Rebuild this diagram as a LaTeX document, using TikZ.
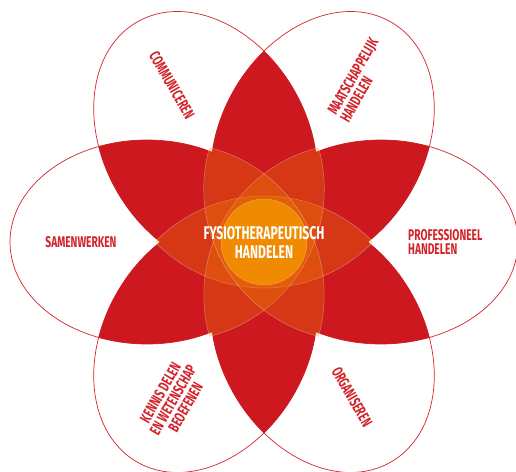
\documentclass[tikz,border=0pt]{standalone}
\usepackage{fontspec}
\usepackage{tikz}
\usetikzlibrary{positioning}
\newfontfamily\labelfont{Fira Sans}[FakeStretch=0.66]
\definecolor{petalline}{RGB}{210,35,42}
\definecolor{petalred}{RGB}{204,24,30}
\definecolor{lensorange}{RGB}{240,138,0}
\definecolor{coreorange}{RGB}{240,138,0}
\tikzset{
  petal/.style={draw=petalline, line width=0.7pt},
  lens/.style={fill=lensorange, fill opacity=0.28, draw=white, draw opacity=0.35, line width=0.5pt},
  petallabel/.style={text=petalline, font=\labelfont\bfseries\fontsize{15.5}{14.5}\selectfont, inner sep=0pt},
  corelabel/.style={text=white, font=\labelfont\bfseries\fontsize{18.4}{19}\selectfont, inner sep=0pt, align=center}
}

\begin{document}
\begin{tikzpicture}[x=1pt, y=1pt]
        \useasboundingbox (-264,-229) rectangle (252,242);
        % Six petals (outlines only)
        \foreach \a in {0,60,...,300}
          \draw[petal, rotate=\a] (117,0) ellipse [x radius=137pt, y radius=102pt];
        % Red where two petals overlap
        \foreach \i in {0,...,5} {
          \foreach \j in {0,...,5} {
            \ifnum\j>\i
            \begin{scope}
              \clip[rotate=60*\i] (117,0) ellipse [x radius=137pt, y radius=102pt];
              \fill[petalred, rotate=60*\j] (117,0) ellipse [x radius=137pt, y radius=102pt];
            \end{scope}
            \fi
          }
        }
        % Three lenses through the centre
        \foreach \a in {0,60,120}
          \path[lens, rotate=\a] (-109,0) arc [start angle=135.8, end angle=44.2, radius=152.1pt]
            arc [start angle=-44.2, end angle=-135.8, radius=152.1pt] -- cycle;
        % Core circle
        \path[fill=coreorange, draw=white, draw opacity=0.3, line width=0.5pt] (0,0) circle [radius=43pt];
        \node[corelabel] (core) at (0,0) {FYSIOTHERAPEUTISCH\\HANDELEN};
        % Petal labels
        \node[petallabel] (samenwerken) at (-183,0) {SAMENWERKEN};
        \node[petallabel, align=left, anchor=west] (professioneel) at (144,0) {PROFESSIONEEL\\HANDELEN};
        \node[petallabel, rotate=-60] (communiceren) at (-92,157) {COMMUNICEREN};
        \node[petallabel, rotate=60, align=left] (maatschappelijk) at (95,162) {MAATSCHAPPELIJK\\HANDELEN};
        \node[petallabel, rotate=60, align=center] (kennis) at (-91,-158) {KENNIS DELEN\\EN WETENSCHAP\\BEOEFENEN};
        \node[petallabel, rotate=-60] (organiseren) at (88,-155) {ORGANISEREN};
      \end{tikzpicture}
\end{document}
